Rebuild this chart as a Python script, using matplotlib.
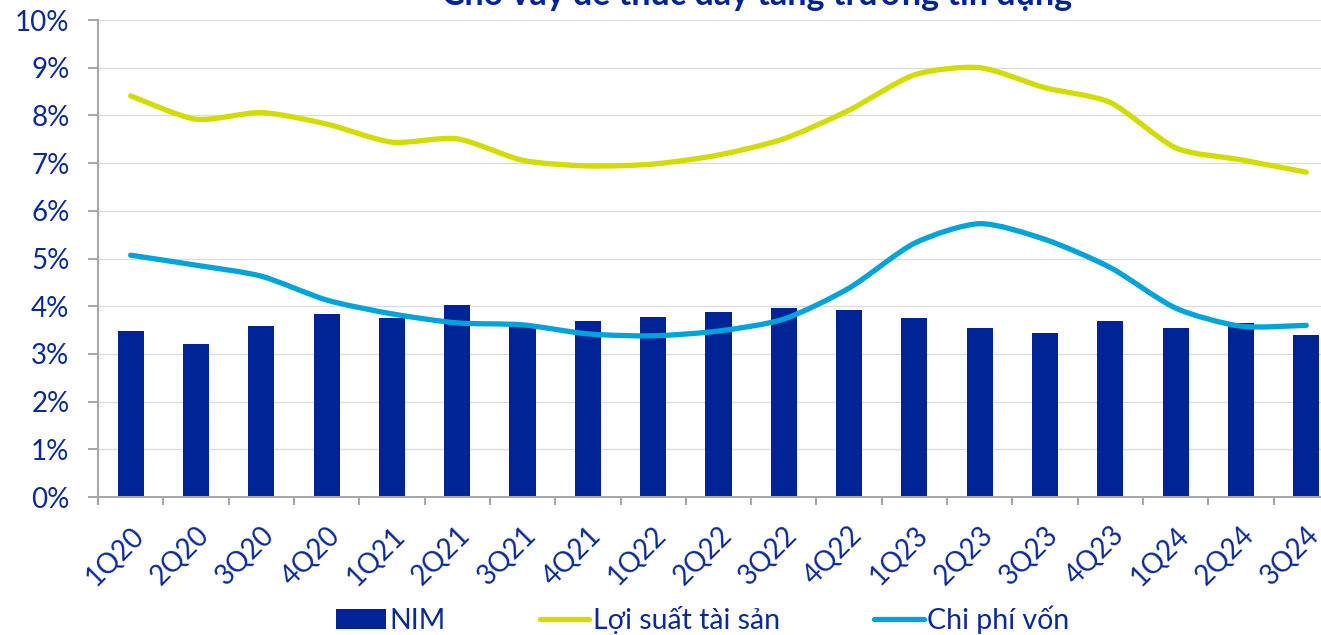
import matplotlib
matplotlib.use("Agg")
import matplotlib.pyplot as plt
import numpy as np
from matplotlib.path import Path
from matplotlib.patches import PathPatch
from matplotlib.lines import Line2D
from matplotlib.patches import Patch

quarters = ["1Q20", "2Q20", "3Q20", "4Q20", "1Q21", "2Q21", "3Q21", "4Q21", "1Q22", "2Q22",
            "3Q22", "4Q22", "1Q23", "2Q23", "3Q23", "4Q23", "1Q24", "2Q24", "3Q24"]
nim = [3.48, 3.21, 3.58, 3.84, 3.75, 4.02, 3.58, 3.69, 3.77, 3.88,
       3.96, 3.92, 3.76, 3.54, 3.44, 3.69, 3.55, 3.65, 3.40]
asset_yield = [8.41, 7.92, 8.06, 7.82, 7.44, 7.51, 7.06, 6.94, 6.98, 7.17,
               7.51, 8.11, 8.85, 9.00, 8.58, 8.27, 7.32, 7.07, 6.81]
cost_of_funds = [5.07, 4.86, 4.63, 4.13, 3.84, 3.65, 3.61, 3.42, 3.38, 3.48,
                 3.73, 4.38, 5.32, 5.73, 5.40, 4.81, 3.96, 3.58, 3.60]

NAVY = "#002395"
GREEN = "#D2DC00"
BLUE = "#00A3DA"
TEXT = "#0B2A96"
GREY = "#A8A8A8"

plt.rcParams["font.family"] = ["Lato", "DejaVu Sans"]


# smoothed line through the points (catmull-rom drawn as bezier curves)
def smooth_path(xs, ys, k=8.0):
    pts = np.column_stack([xs, ys])
    verts = [pts[0]]
    codes = [Path.MOVETO]
    n = len(pts)
    for i in range(n - 1):
        p0 = pts[i - 1] if i > 0 else pts[i]
        p1 = pts[i]
        p2 = pts[i + 1]
        p3 = pts[i + 2] if i + 2 < n else pts[i + 1]
        c1 = p1 + (p2 - p0) / k
        c2 = p2 - (p3 - p1) / k
        verts += [c1, c2, p2]
        codes += [Path.CURVE4] * 3
    return Path(verts, codes)


fig = plt.figure(figsize=(13.21, 6.35), dpi=100)
ax = fig.add_axes([0.0742, 0.2173, 0.9394, 0.7512])

x = np.arange(len(quarters))
ax.bar(x, nim, width=0.4, color=NAVY, zorder=2)

for vals, col in [(asset_yield, GREEN), (cost_of_funds, BLUE)]:
    patch = PathPatch(smooth_path(x, vals), facecolor="none", edgecolor=col, lw=3.8,
                      capstyle="round", joinstyle="round", zorder=3)
    ax.add_patch(patch)

ax.set_xlim(-0.5, len(quarters) - 0.5)
ax.set_ylim(0, 10)
ax.set_yticks(np.arange(0, 11, 1))
ax.set_yticklabels([f"{i}%" for i in range(11)])
ax.yaxis.grid(True, color="#DDDDDD", lw=1)
ax.set_axisbelow(True)

ax.set_xticks(x)
ax.set_xticklabels(quarters, rotation=45, ha="right", rotation_mode="anchor")
ax.set_xticks(np.arange(-0.5, len(quarters), 1), minor=True)
ax.tick_params(axis="x", which="major", length=0, pad=18, labelsize=20, labelcolor=TEXT)
ax.tick_params(axis="x", which="minor", length=6, color=GREY, width=1.5)
ax.tick_params(axis="y", length=7.5, color=GREY, width=1.5, pad=13, labelsize=20, labelcolor=TEXT)

for s in ["top", "right"]:
    ax.spines[s].set_visible(False)
for s in ["left", "bottom"]:
    ax.spines[s].set_color(GREY)
    ax.spines[s].set_linewidth(1.5)

# title is cut off by the top edge in the original
fig.text(0.573, 0.992, "Cho vay để thúc đẩy tăng trưởng tín dụng", ha="center", va="baseline",
         fontsize=24.5, fontweight="bold", color=NAVY)

handles = [Patch(facecolor=NAVY),
           Line2D([0], [0], color=GREEN, lw=3.8, solid_capstyle="round"),
           Line2D([0], [0], color=BLUE, lw=3.8, solid_capstyle="round")]
leg = fig.legend(handles, ["NIM", "Lợi suất tài sản", "Chi phí vốn"], loc="center",
                 bbox_to_anchor=(0.532, 0.024), ncol=3, frameon=False, fontsize=20.5,
                 handlelength=1.75, handletextpad=0.12, columnspacing=3.3)
for t in leg.get_texts():
    t.set_color(TEXT)

fig.savefig("out.png", dpi=100)
